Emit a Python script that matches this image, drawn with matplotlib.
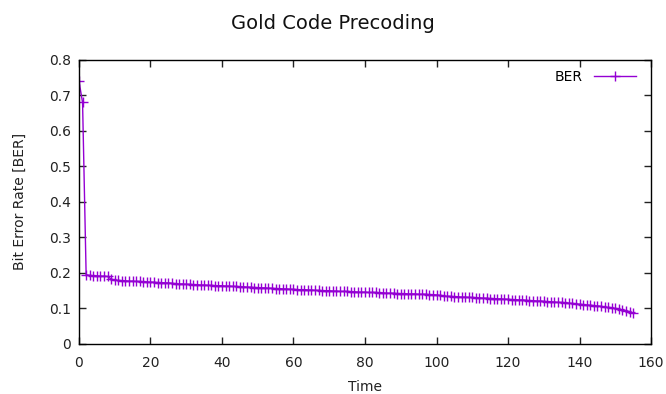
import matplotlib
matplotlib.use('Agg')
import matplotlib.pyplot as plt

# 読み取った BER の値（時刻 0..155）
ber = [
    0.740, 0.680, 0.195, 0.193, 0.192, 0.192, 0.191, 0.191, 0.190, 0.183,
    0.180, 0.179, 0.178, 0.178, 0.177, 0.177, 0.176, 0.176, 0.175, 0.175,
    0.174, 0.174, 0.173, 0.173, 0.172, 0.172, 0.171, 0.170, 0.169, 0.169,
    0.168, 0.168, 0.167, 0.167, 0.166, 0.166, 0.165, 0.165, 0.164, 0.164,
    0.164, 0.163, 0.163, 0.162, 0.162, 0.161, 0.161, 0.160, 0.160, 0.159,
    0.159, 0.158, 0.158, 0.157, 0.157, 0.156, 0.156, 0.155, 0.155, 0.154,
    0.154, 0.153, 0.153, 0.153, 0.152, 0.152, 0.151, 0.151, 0.150, 0.150,
    0.150, 0.149, 0.149, 0.148, 0.148, 0.148, 0.147, 0.147, 0.146, 0.146,
    0.146, 0.145, 0.145, 0.145, 0.144, 0.144, 0.143, 0.143, 0.143, 0.142,
    0.142, 0.142, 0.141, 0.141, 0.141, 0.140, 0.140, 0.140, 0.139, 0.139,
    0.138, 0.137, 0.135, 0.134, 0.134, 0.133, 0.133, 0.132, 0.132, 0.131,
    0.131, 0.130, 0.130, 0.129, 0.129, 0.128, 0.128, 0.127, 0.127, 0.126,
    0.126, 0.125, 0.125, 0.124, 0.124, 0.123, 0.122, 0.122, 0.121, 0.121,
    0.120, 0.119, 0.119, 0.118, 0.117, 0.117, 0.116, 0.115, 0.114, 0.113,
    0.112, 0.111, 0.110, 0.109, 0.108, 0.107, 0.106, 0.104, 0.103, 0.102,
    0.100, 0.098, 0.096, 0.094, 0.091, 0.087,
]
time = list(range(len(ber)))

x_ticks = [0, 20, 40, 60, 80, 100, 120, 140, 160]
y_ticks = [0, 0.1, 0.2, 0.3, 0.4, 0.5, 0.6, 0.7, 0.8]

plt.rcParams['font.family'] = ['DejaVu Sans']

fig = plt.figure(figsize=(6.66, 3.94), dpi=100)
ax = fig.add_axes([0.1186, 0.127, 0.8589, 0.721])

ax.plot(time, ber, color='#9400D3', lw=1.0, marker='+', markersize=6.5,
        markeredgewidth=1.0, label='BER')

ax.set_xlim(0, 160)
ax.set_ylim(0, 0.8)
ax.set_xticks(x_ticks)
ax.set_yticks(y_ticks)
ax.yaxis.set_major_formatter(plt.FuncFormatter(lambda v, p: f'{v:g}'))
ax.tick_params(direction='in', top=True, right=True, length=5, width=1,
               labelsize=10, colors='#222222')
ax.tick_params(axis='x', pad=9)
ax.tick_params(axis='y', pad=6)
for s in ax.spines.values():
    s.set_linewidth(1.0)
    s.set_color('#000000')

ax.set_xlabel('Time', fontsize=10, labelpad=7, color='#222222')
ax.set_ylabel('Bit Error Rate [BER]', fontsize=10, labelpad=16, color='#222222')
fig.suptitle('Gold Code Precoding', fontsize=14, y=0.965, color='#111111')

ax.legend(loc='upper right', frameon=False, markerfirst=False, fontsize=10,
          handlelength=3.0, borderaxespad=0.3, bbox_to_anchor=(0.99, 1.0))

plt.savefig('out.png', dpi=100)
